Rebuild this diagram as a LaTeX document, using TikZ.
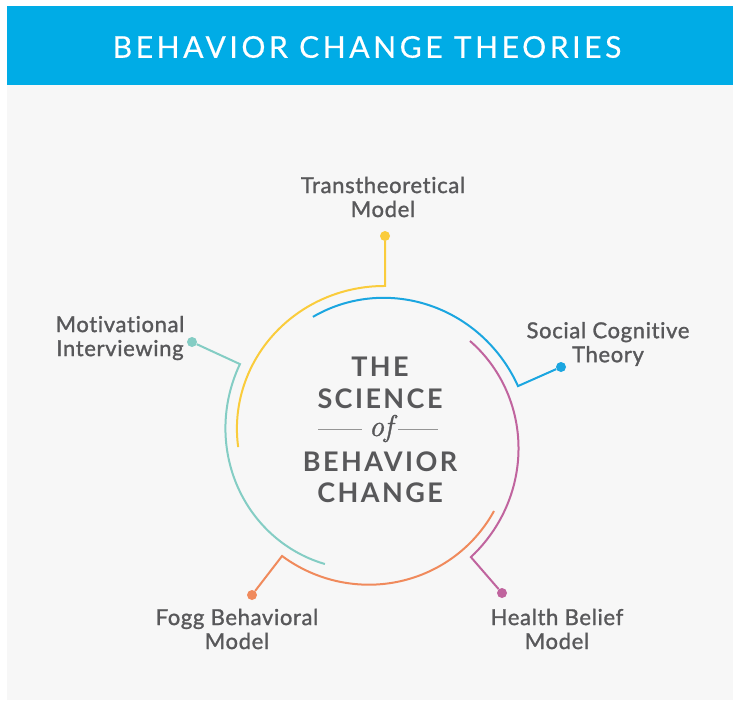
\documentclass[tikz,border=0pt]{standalone}
\usepackage{fontspec}
\newfontfamily\latofont{Lato}[Ligatures=NoCommon, LetterSpace=3, FakeBold=1.3]
\newfontfamily\headfont{Lato}[Ligatures=NoCommon, LetterSpace=12, FakeBold=0.4]
\newfontfamily\corefont{Lato}[Ligatures=NoCommon, LetterSpace=9]
\newfontfamily\offont{Latin Modern Roman}[FakeBold=1.2]
\usepackage{tikz}
\usetikzlibrary{positioning}

\definecolor{headblue}{RGB}{0,172,230}
\definecolor{panelgray}{RGB}{247,247,247}
\definecolor{inkgray}{RGB}{88,88,90}
\definecolor{rulegray}{RGB}{150,150,150}
\definecolor{ttmcol}{RGB}{250,204,60}
\definecolor{sctcol}{RGB}{27,166,224}
\definecolor{hbmcol}{RGB}{192,100,158}
\definecolor{fbmcol}{RGB}{240,138,92}
\definecolor{micol}{RGB}{132,205,196}

\begin{document}
\begin{tikzpicture}[x=1pt, y=-1pt,
    arcline/.style={line width=2pt},
    dot/.style={circle, inner sep=0pt, minimum size=10pt},
    theory/.style={font=\latofont\fontsize{22}{24}\selectfont, text=inkgray, align=center},
    core/.style={font=\corefont\bfseries\fontsize{27}{30}\selectfont, text=inkgray, anchor=base},
    heading/.style={font=\headfont\fontsize{30}{32}\selectfont, text=white}
  ]
    \useasboundingbox (0,0) rectangle (738,702);
    \fill[headblue] (7,6) rectangle (733,85);
    \fill[panelgray] (7,85) rectangle (733,700);
    \node[heading] (title) at (367,47) {BEHAVIOR CHANGE THEORIES};

    % end points of the theories
    \node[dot, fill=ttmcol] (ttmdot) at (385,236) {};
    \node[dot, fill=sctcol] (sctdot) at (561,367) {};
    \node[dot, fill=hbmcol] (hbmdot) at (502,593) {};
    \node[dot, fill=fbmcol] (fbmdot) at (252,595) {};
    \node[dot, fill=micol] (midot) at (192,342) {};

    \node[theory] (ttm) at (383,197) {Transtheoretical\\Model};
    \node[theory] (sct) at (608,344) {Social Cognitive\\Theory};
    \node[theory] (hbm) at (557,629) {Health Belief\\Model};
    \node[theory] (fbm) at (237,629) {Fogg Behavioral\\Model};
    \node[theory] (mi) at (120,338) {Motivational\\Interviewing};

    % spiral arcs: start angle / end angle / start radius / end radius
    \foreach \a/\b/\ra/\rb/\col/\tip in {
        183/85.5/135/154.5/ttmcol/ttmdot,
        116/20.4/137/154.7/sctcol/sctdot,
        45.6/-50.1/138.6/152.6/hbmcol/hbmdot,
        -30.4/-128.1/140.3/147.4/fbmcol/fbmdot,
        -111.2/-209.7/133/153.2/micol/midot}
      \draw[arcline, \col] plot[domain=\a:\b, samples=90]
        ({373+(\ra+((\a)-\x)/((\a)-(\b))*((\rb)-(\ra)))*cos(\x)},
         {440-(\ra+((\a)-\x)/((\a)-(\b))*((\rb)-(\ra)))*sin(\x)})
        -- (\tip);

    % centre title
    \node[core] (the) at (380,376) {THE};
    \node[core] (science) at (380,408) {SCIENCE};
    \node[font=\offont\itshape\fontsize{30}{32}\selectfont, text=inkgray, anchor=base] (of) at (381,436) {of};
    \node[core] (behavior) at (380,471) {BEHAVIOR};
    \node[core] (change) at (380,502) {CHANGE};
    \draw[rulegray, line width=0.8pt] (318,429) -- (362,429);
    \draw[rulegray, line width=0.8pt] (398,429) -- (438,429);
\end{tikzpicture}
\end{document}
